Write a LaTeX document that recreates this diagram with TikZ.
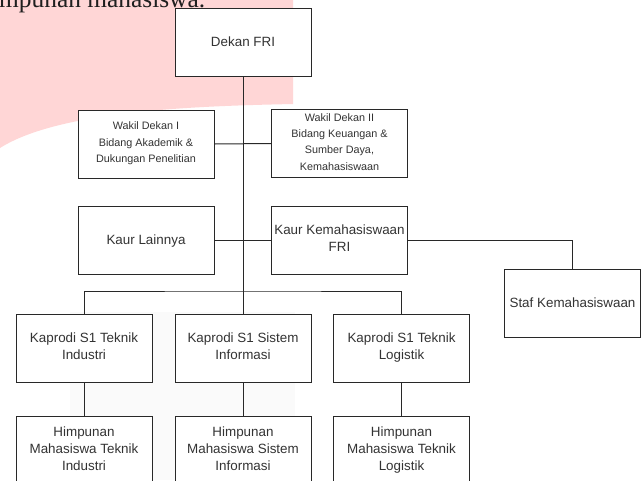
\documentclass[tikz,border=0pt]{standalone}
\usepackage{fontspec}
\setmainfont{Liberation Sans}
\newfontfamily\serifwm{Liberation Serif}
\definecolor{pinkbg}{RGB}{255,214,214}
\definecolor{faintgray}{RGB}{250,250,250}
\definecolor{linec}{RGB}{40,40,40}
\definecolor{textc}{RGB}{51,51,51}
\newcommand\bigstrutx{\rule[-3.5pt]{0pt}{16pt}}
\newcommand\smallstrutx{\rule[-3.5pt]{0pt}{14pt}}
\tikzset{
  orgbox/.style={draw=linec, line width=1pt, fill=white, minimum width=136pt, minimum height=68pt, inner sep=0pt, align=center, text=textc, font=\fontsize{13.4}{17}\selectfont, execute at begin node=\bigstrutx, execute at end node=\bigstrutx},
  smallbox/.style={draw=linec, line width=1pt, fill=white, minimum width=136pt, minimum height=68pt, inner sep=0pt, align=center, text=textc, font=\fontsize{10.8}{16.3}\selectfont, execute at begin node=\smallstrutx, execute at end node=\smallstrutx},
  conn/.style={draw=linec, line width=1pt}
}
\begin{document}
\begin{tikzpicture}[x=1pt,y=-1pt]
\clip (0,0) rectangle (644,480);
\fill[white] (0,0) rectangle (644,480);
% background decorations
\fill[pinkbg] (0,0) -- (293,0) -- (293,104) .. controls (200,106) and (60,110) .. (0,148) -- cycle;
\fill[faintgray] (70,312) rectangle (295,480);
\node[anchor=base west, inner sep=0pt, font=\serifwm\fontsize{25.4}{30}\selectfont, text=black!88] (wm) at (-1,7) {mpunan mahasiswa.};
% nodes
\node[orgbox] (dekan) at (243,42) {Dekan FRI};
\node[smallbox] (w1) at (146,144) {Wakil Dekan I\\Bidang Akademik \&\\Dukungan Penelitian};
\node[smallbox] (w2) at (339.5,143.5) {Wakil Dekan II\\Bidang Keuangan \&\\Sumber Daya,\\Kemahasiswaan};
\node[orgbox] (kl) at (146,240) {Kaur Lainnya};
\node[orgbox] (kk) at (339.5,240) {Kaur Kemahasiswaan\\FRI};
\node[orgbox] (staf) at (572.5,303) {Staf Kemahasiswaan};
\node[orgbox] (kpti) at (84,348) {Kaprodi S1 Teknik\\Industri};
\node[orgbox] (kpsi) at (243,348) {Kaprodi S1 Sistem\\Informasi};
\node[orgbox] (kptl) at (401.5,348) {Kaprodi S1 Teknik\\Logistik};
\node[orgbox] (hti) at (84,450) {Himpunan\\Mahasiswa Teknik\\Industri};
\node[orgbox] (hsi) at (243,450) {Himpunan\\Mahasiswa Sistem\\Informasi};
\node[orgbox] (htl) at (401.5,450) {Himpunan\\Mahasiswa Teknik\\Logistik};
\coordinate (bus) at (243,291);
% connectors
\draw[conn] (dekan.south) -- (kpsi.north);
\draw[conn] (w1.east) -- (w2.west);
\draw[conn] (kl.east) -- (kk.west);
\draw[conn] (kk.east) -| (staf.north);
\draw[conn] (kpti.north) |- (bus) -| (kptl.north);
\draw[conn] (kpti.south) -- (hti.north);
\draw[conn] (kpsi.south) -- (hsi.north);
\draw[conn] (kptl.south) -- (htl.north);
\end{tikzpicture}
\end{document}
